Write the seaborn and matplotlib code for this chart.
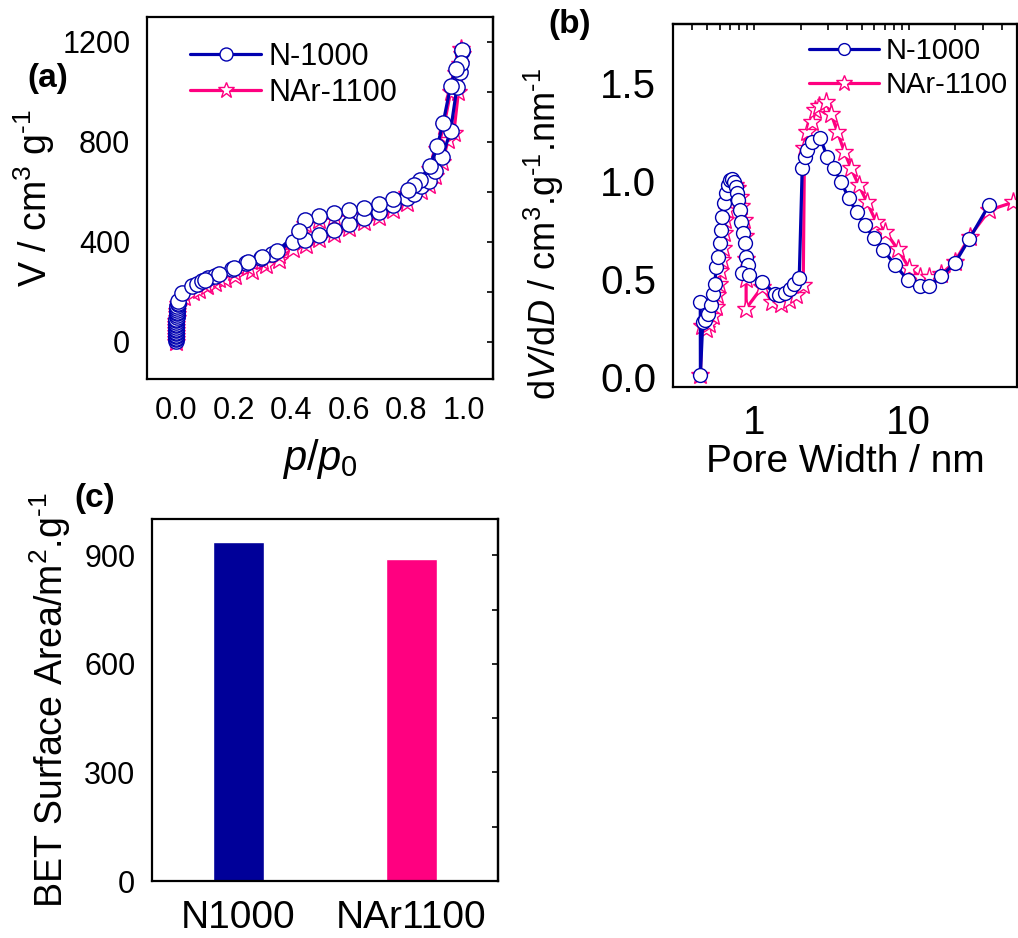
import matplotlib
matplotlib.use("Agg")
import matplotlib.pyplot as plt
import seaborn as sns
import numpy as np
from matplotlib.ticker import MultipleLocator, LogLocator, NullFormatter, FixedLocator

# (a) N2 isotherms: adsorption then desorption, in measuring order
p_n1000 = [0.0001, 0.0001, 0.0002, 0.0002, 0.0003, 0.0004, 0.0005, 0.0006, 0.0007, 0.0009, 0.001, 0.0012,
           0.0014, 0.0017, 0.002, 0.0024, 0.0027, 0.0032, 0.0036, 0.0042, 0.0048, 0.0055, 0.0062, 0.007, 0.008,
           0.022, 0.055, 0.072, 0.09, 0.112, 0.136, 0.195, 0.245, 0.294, 0.335, 0.405, 0.448, 0.497, 0.548, 0.60,
           0.653, 0.703, 0.752, 0.80, 0.826, 0.852, 0.878, 0.90, 0.924, 0.953, 0.975, 0.985, 0.994,
           0.992, 0.988, 0.97, 0.953, 0.927, 0.907, 0.88, 0.848, 0.825, 0.805, 0.752, 0.703, 0.653, 0.601,
           0.548, 0.497, 0.448, 0.427, 0.351, 0.30, 0.25, 0.20, 0.15, 0.10]
v_n1000 = [3, 9, 15, 21, 28, 34, 40, 46, 52, 58, 65, 71, 78, 85, 92, 99, 106, 113, 120, 128, 135, 142, 150, 156, 163,
           196, 222, 230, 241, 254, 263, 292, 314, 336, 352, 400, 405, 428, 448, 472,
           496, 519, 547, 573, 592, 623, 643, 683, 739, 845, 1020, 1080, 1163,
           1169, 1116, 1092, 1023, 876, 783, 703, 649, 627, 607, 572, 551, 536, 527,
           516, 501, 487, 441, 362, 340, 318, 296, 270, 246]

p_nar1100 = [0.0001, 0.0002, 0.0003, 0.0005, 0.0007, 0.001, 0.0014, 0.002, 0.0027, 0.0036, 0.0048, 0.0062, 0.008,
             0.03, 0.06, 0.08, 0.107, 0.136, 0.171, 0.206, 0.265, 0.311, 0.357, 0.405, 0.451, 0.497, 0.548, 0.60,
             0.653, 0.703, 0.752, 0.80, 0.852, 0.878, 0.90, 0.924, 0.945, 0.964, 0.98, 0.993,
             0.99, 0.985, 0.97, 0.953, 0.93, 0.907, 0.88, 0.85, 0.80, 0.752, 0.703, 0.653, 0.60,
             0.548, 0.497, 0.448, 0.43, 0.357, 0.30, 0.25, 0.20, 0.15, 0.10]
v_nar1100 = [0, 10, 22, 34, 46, 58, 70, 83, 96, 110, 124, 138, 150,
             180, 198, 208, 222, 233, 250, 262, 284, 305, 328, 372, 388, 412, 432, 456,
             478, 500, 528, 556, 605, 628, 662, 718, 809, 835, 1000, 1150,
             1170, 1110, 1075, 1000, 865, 770, 690, 635, 592, 557, 537, 520, 510,
             500, 485, 472, 425, 345, 322, 300, 278, 252, 230]

# (b) pore size distribution
d_n1000 = [0.45, 0.451, 0.467, 0.486, 0.506, 0.524, 0.542, 0.559, 0.570, 0.585, 0.60, 0.611, 0.623, 0.639,
           0.655, 0.675, 0.696, 0.717, 0.742, 0.76, 0.78, 0.79, 0.807, 0.824, 0.849, 0.874, 0.892, 0.919,
           0.84, 0.93, 1.13, 1.37, 1.45, 1.59, 1.70, 1.82, 1.96, 2.05, 2.14, 2.21, 2.38, 2.68, 2.98, 3.3,
           3.64, 4.08, 4.6, 5.2, 5.94, 6.84, 8.12, 9.88, 11.85, 13.6, 16.2, 19.8, 24.5, 33.0]
dv_n1000 = [0.384, 0.01, 0.281, 0.29, 0.324, 0.366, 0.426, 0.477, 0.562, 0.614, 0.682, 0.75, 0.818, 0.886,
            0.937, 0.98, 1.006, 1.009, 0.997, 0.97, 0.937, 0.903, 0.852, 0.793, 0.733, 0.682, 0.614, 0.571,
            0.53, 0.52, 0.486, 0.426, 0.418, 0.43, 0.45, 0.477, 0.503, 1.066, 1.12, 1.16, 1.20, 1.22, 1.12, 1.065,
            0.997, 0.915, 0.84, 0.776, 0.71, 0.648, 0.574, 0.494, 0.464, 0.465, 0.515, 0.58, 0.702, 0.878]

d_nar1100 = [0.451, 0.46, 0.49, 0.51, 0.54, 0.565, 0.58, 0.594, 0.606, 0.618, 0.63, 0.64, 0.652, 0.665, 0.68,
             0.70, 0.72, 0.75, 0.78, 0.81, 0.83, 0.86, 0.88, 0.89, 0.89, 0.89, 1.13, 1.31, 1.49, 1.69, 1.86,
             2.08, 2.12, 2.21, 2.38, 2.49, 2.64, 2.93, 3.16, 3.46, 3.83, 4.23, 4.74, 5.35, 6.14, 7.07, 8.5,
             10.1, 11.85, 13.6, 16.2, 19.8, 24.7, 33.2, 47.0]
dv_nar1100 = [0.01, 0.26, 0.247, 0.27, 0.31, 0.358, 0.42, 0.477, 0.54, 0.597, 0.66, 0.733, 0.80, 0.852, 0.90,
              0.937, 0.975, 0.98, 0.963, 0.92, 0.87, 0.80, 0.72, 0.60, 0.50, 0.35, 0.46, 0.383, 0.375, 0.392, 0.418,
              0.469, 1.17, 1.25, 1.30, 1.36, 1.38, 1.40, 1.34, 1.25, 1.15, 1.065, 0.98, 0.895, 0.793, 0.742, 0.651,
              0.554, 0.511, 0.511, 0.525, 0.588, 0.716, 0.852, 0.891]

# (c) BET surface area
samples = ["N1000", "NAr1100"]
bet_area = [936, 889]

blue = "#000099"
blue_mk = "#0000B0"
pink = "#FF0080"

sns.set_style("white")
plt.rcParams["font.family"] = ["Liberation Sans", "DejaVu Sans"]
plt.rcParams["mathtext.fontset"] = "custom"
plt.rcParams["mathtext.rm"] = "Liberation Sans"
plt.rcParams["mathtext.it"] = "Liberation Sans:italic"
plt.rcParams["axes.linewidth"] = 1.6
for k in ["text.color", "axes.labelcolor", "xtick.color", "ytick.color", "axes.edgecolor"]:
    plt.rcParams[k] = "black"

W, H = 1018, 938
fig = plt.figure(figsize=(W / 100, H / 100), dpi=100)


def box(l, t, r, b):
    return [l / W, (H - b) / H, (r - l) / W, (b - t) / H]


ax_a = fig.add_axes(box(147, 17, 493, 379))
ax_b = fig.add_axes(box(673, 24, 1017, 387))
ax_c = fig.add_axes(box(152, 519, 498, 881))


def curve(ax, x, y, color, marker, label, ms, z):
    sns.lineplot(x=x, y=y, sort=False, estimator=None, color=color, lw=2.3, marker=marker,
                 markersize=ms, markerfacecolor="white", markeredgecolor=color, markeredgewidth=1.0,
                 label=label, ax=ax, zorder=z)


# ---- (a)
curve(ax_a, p_nar1100, v_nar1100, pink, "*", "NAr-1100", 14, 2)
curve(ax_a, p_n1000, v_n1000, blue_mk, "o", "N-1000", 11, 3)
ax_a.set_xlim(-0.1, 1.1)
ax_a.set_ylim(-150, 1300)
ax_a.xaxis.set_minor_locator(MultipleLocator(0.1))
ax_a.yaxis.set_major_locator(MultipleLocator(400))
ax_a.yaxis.set_minor_locator(MultipleLocator(200))
ax_a.set_xticks(np.arange(0, 1.01, 0.2))
ax_a.set_xticklabels(["0.0", "0.2", "0.4", "0.6", "0.8", "1.0"])
ax_a.tick_params(which="major", direction="out", length=8, width=1.5, labelsize=22, pad=4)
ax_a.tick_params(which="minor", direction="out", length=4, width=1.2)
ax_a.set_xlabel("$p$/$p_0$", fontsize=30, labelpad=8)
ax_a.set_ylabel(r"V / cm$^3$ g$^{\text{-1}}$", fontsize=27, labelpad=4)
sec = ax_a.secondary_yaxis("right")
sec.yaxis.set_major_locator(MultipleLocator(200))
sec.tick_params(direction="in", length=4, width=1.2, labelright=False)

# ---- (b)
curve(ax_b, d_nar1100, dv_nar1100, pink, "*", "NAr-1100", 14, 2)
curve(ax_b, d_n1000, dv_n1000, blue_mk, "o", "N-1000", 10, 3)
ax_b.set_xscale("log")
ax_b.set_xlim(0.3, 50)
ax_b.set_ylim(-0.05, 1.8)
ax_b.yaxis.set_major_locator(MultipleLocator(0.5))
ax_b.yaxis.set_minor_locator(MultipleLocator(0.25))
ax_b.xaxis.set_major_locator(FixedLocator([1, 10]))
ax_b.set_xticklabels(["1", "10"])
ax_b.xaxis.set_minor_locator(LogLocator(base=10, subs=np.arange(2, 10)))
ax_b.xaxis.set_minor_formatter(NullFormatter())
ax_b.tick_params(which="major", direction="out", length=8, width=1.5, labelsize=29, pad=4)
ax_b.tick_params(which="minor", direction="out", length=4, width=1.2)
ax_b.set_xlabel("Pore Width / nm", fontsize=28, labelpad=2)
ax_b.set_ylabel(r"d$V$/d$D$ / cm$^3$.g$^{\text{-1}}$.nm$^{\text{-1}}$", fontsize=26)
ax_b.yaxis.set_label_coords(-0.31, 0.42)
sec_b = ax_b.secondary_xaxis("top")
sec_b.set_xscale("log")
sec_b.xaxis.set_minor_locator(LogLocator(base=10, subs=np.arange(2, 10)))
sec_b.tick_params(which="both", direction="in", length=4, width=1.2, labeltop=False)

# legends, N-1000 first
for ax, anchor, fs, hl in [(ax_a, (0.09, 0.965), 22, 2.3), (ax_b, (0.36, 0.995), 21, 2.4)]:
    h, l = ax.get_legend_handles_labels()
    ax.legend(h[::-1], l[::-1], loc="upper left", bbox_to_anchor=anchor, frameon=False,
              fontsize=fs, handlelength=hl, handletextpad=0.25, labelspacing=0.2, borderaxespad=0,
              markerscale=0.85)

# ---- (c)
sns.barplot(x=samples, y=bet_area, hue=samples, palette=[blue, pink], width=0.3,
            saturation=1, legend=False, ax=ax_c)
ax_c.set_xlim(-0.5, 1.5)
ax_c.set_ylim(0, 1000)
ax_c.yaxis.set_major_locator(MultipleLocator(300))
ax_c.yaxis.set_minor_locator(MultipleLocator(150))
ax_c.tick_params(axis="y", which="major", direction="out", length=8, width=1.5, labelsize=22, pad=4)
ax_c.tick_params(axis="y", which="minor", direction="out", length=4, width=1.2)
ax_c.tick_params(axis="x", length=0, labelsize=28, pad=14)
ax_c.set_ylabel(r"BET Surface Area/m$^2$.g$^{\text{-1}}$", fontsize=27, labelpad=8)
sec_c = ax_c.secondary_yaxis("right")
sec_c.yaxis.set_major_locator(MultipleLocator(150))
sec_c.tick_params(direction="in", length=4, width=1.2, labelright=False)

fig.text(48 / W, 1 - 78 / H, "(a)", fontsize=24, fontweight="bold", ha="center", va="center")
fig.text(570 / W, 1 - 25 / H, "(b)", fontsize=24, fontweight="bold", ha="center", va="center")
fig.text(95 / W, 1 - 498 / H, "(c)", fontsize=24, fontweight="bold", ha="center", va="center")

fig.savefig("out.png", dpi=100)
